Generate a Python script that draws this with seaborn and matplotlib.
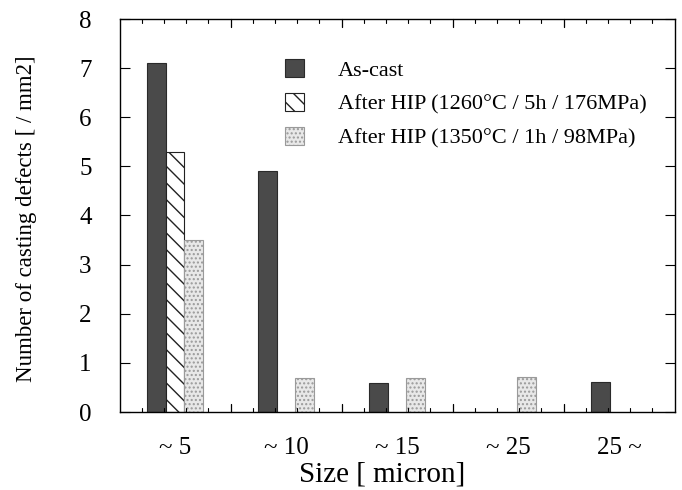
import numpy as np
import pandas as pd
import matplotlib
matplotlib.use("Agg")
import matplotlib.pyplot as plt
import seaborn as sns
from matplotlib.patches import Patch
from matplotlib.ticker import MultipleLocator

categories = ["~ 5", "~ 10", "~ 15", "~ 25", "25 ~"]
series = ["As-cast", "After HIP (1260°C / 5h / 176MPa)", "After HIP (1350°C / 1h / 98MPa)"]
as_cast = [7.1, 4.9, 0.6, 0.0, 0.62]
hip_1260 = [5.3, 0.0, 0.0, 0.0, 0.0]
hip_1350 = [3.5, 0.7, 0.7, 0.72, 0.0]

rows = []
for name, vals in zip(series, [as_cast, hip_1260, hip_1350]):
    for c, v in zip(categories, vals):
        rows.append({"Size": c, "Series": name, "Value": v})
df = pd.DataFrame(rows)

sns.set_theme(style="ticks")
plt.rcParams['font.family'] = ['Liberation Serif', 'DejaVu Serif']
plt.rcParams['hatch.linewidth'] = 1.0
plt.rcParams['text.color'] = 'black'
plt.rcParams['axes.labelcolor'] = 'black'
plt.rcParams['xtick.color'] = 'black'
plt.rcParams['ytick.color'] = 'black'

fig = plt.figure(figsize=(6.82, 4.90), dpi=100)
ax = fig.add_axes([119.5/682, 1-412/490, 555/682, 393/490])

styles = [
    dict(facecolor="#4a4a4a", edgecolor="#2a2a2a", hatch=None),
    dict(facecolor="white", edgecolor="#222222", hatch="\\\\"),
    dict(facecolor="#e8e8e8", edgecolor="#9a9a9a", hatch="...."),
]
palette = {s: st["facecolor"] for s, st in zip(series, styles)}

sns.barplot(data=df, x="Size", y="Value", hue="Series", order=categories,
            hue_order=series, palette=palette, width=0.5, gap=0,
            saturation=1, legend=False, ax=ax, errorbar=None)

for container, st in zip(ax.containers, styles):
    for bar in container:
        bar.set_facecolor(st["facecolor"])
        bar.set_edgecolor(st["edgecolor"])
        bar.set_linewidth(0.8)
        if st["hatch"]:
            bar.set_hatch(st["hatch"])
        if bar.get_height() == 0:
            bar.set_visible(False)

ax.set_xlim(-0.5, 4.5)
ax.set_ylim(0, 8)
ax.yaxis.set_major_locator(MultipleLocator(1))

# x ticks: labels at category centers, tick marks at group boundaries
ax.set_xticks(range(len(categories)))
ax.set_xticklabels(categories, fontsize=18)
ax.tick_params(axis="x", which="major", length=0, pad=18)
bound = [0.5, 1.5, 2.5, 3.5]
minor = [b for b in np.arange(-0.3, 4.5, 0.2) if all(abs(b - m) > 1e-6 for m in bound)]
for b in bound:
    ax.plot([b, b], [0, 0.16], color="black", lw=0.9, clip_on=False)
    ax.plot([b, b], [8, 7.84], color="black", lw=0.9, clip_on=False)
for b in minor:
    ax.plot([b, b], [0, 0.09], color="black", lw=0.8, clip_on=False)
    ax.plot([b, b], [8, 7.91], color="black", lw=0.8, clip_on=False)

ax.tick_params(axis="y", which="major", direction="in", length=7, width=0.8,
               right=True, labelsize=18, pad=20)
ax.set_yticks(range(0, 9))
ax.set_yticklabels([str(i) for i in range(0, 9)])

for sp in ax.spines.values():
    sp.set_linewidth(1.0)
    sp.set_color("black")

ax.set_xlabel("Size [ micron]", fontsize=21)
ax.xaxis.set_label_coords(0.473, -0.127)
ax.set_ylabel("Number of casting defects [ / mm2]", fontsize=16.5)
ax.yaxis.set_label_coords(-0.148, 0.491)

handles = [Patch(facecolor=st["facecolor"], edgecolor=st["edgecolor"],
                 hatch=st["hatch"], linewidth=0.8) for st in styles]
ax.legend(handles, series, loc="upper left", bbox_to_anchor=(0.262, 0.95),
          frameon=False, fontsize=16, handlelength=0.85, handleheight=0.9,
          handletextpad=1.55, labelspacing=0.55)

ax.set_facecolor("white")
fig.patch.set_facecolor("white")
fig.savefig("out.png", dpi=100)
